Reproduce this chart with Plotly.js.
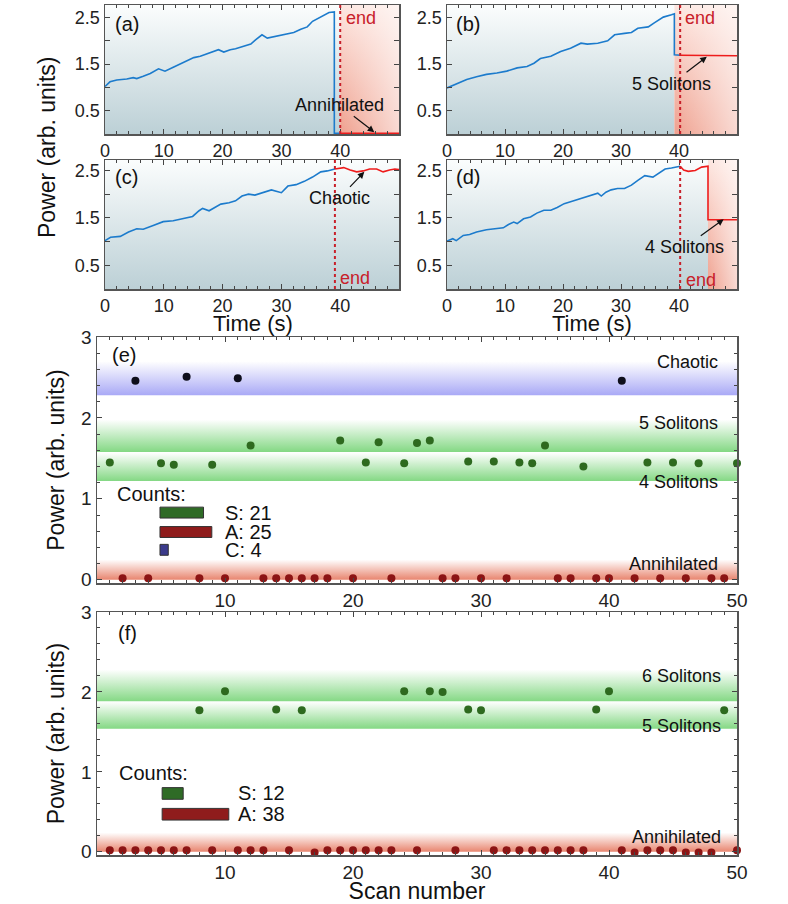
<!DOCTYPE html>
<html><head><meta charset="utf-8">
<script src="https://cdn.plot.ly/plotly-3.0.1.min.js"></script>
<style>html,body{margin:0;padding:0;background:#fff}#chart{width:788px;height:904px}</style>
</head><body><div id="chart"></div>
<script>
// ---------- Panel (a): time trace, ends annihilated ----------
const tA = [0, 0.85, 2, 3.7, 4.8, 5.4, 6.5, 7.7, 9.1, 10.2, 11.7, 13.1, 15.1, 16.2, 17.9, 19.3, 20.2, 21.3, 22.2, 23.6, 24.8, 25.6, 26.7, 27.6, 29.3, 31, 32.1, 33.3, 34.4, 35.3, 36.7, 38.1, 39, 39, 40];
const pA = [1.02, 1.12, 1.16, 1.18, 1.21, 1.19, 1.24, 1.30, 1.40, 1.35, 1.44, 1.52, 1.64, 1.67, 1.74, 1.81, 1.76, 1.81, 1.83, 1.88, 1.93, 2.02, 2.13, 2.06, 2.11, 2.15, 2.18, 2.25, 2.30, 2.42, 2.51, 2.61, 2.62, 0.015, 0.015];
const tAend = [40, 50];
const pAend = [0.015, 0.015];
// ---------- Panel (b): ends with 5 solitons ----------
const tB = [0, 1.6, 3.4, 5.1, 6.8, 8.6, 10.3, 12.1, 13.8, 15, 16.1, 17.9, 19.6, 21.3, 23.1, 24.2, 26, 27.7, 28.9, 30.6, 31.8, 32.9, 34.7, 35.8, 37.3, 38.7, 39.2, 39.2, 40.2];
const pB = [0.99, 1.08, 1.17, 1.23, 1.28, 1.31, 1.35, 1.42, 1.45, 1.52, 1.62, 1.67, 1.77, 1.84, 1.95, 1.93, 1.95, 2.00, 2.13, 2.16, 2.18, 2.27, 2.30, 2.39, 2.51, 2.56, 2.58, 1.70, 1.69];
const tBend = [40.2, 50];
const pBend = [1.69, 1.68];
// ---------- Panel (c): ends chaotic ----------
const tC = [0, 0.95, 2.6, 4.0, 5.4, 6.5, 8.2, 9.9, 11.6, 13.2, 14.9, 16.0, 16.6, 17.7, 18.8, 19.7, 21.1, 22.2, 23.3, 24.4, 25.5, 27.2, 28.3, 30.0, 31.1, 32.5, 33.9, 35.3, 36.7, 37.8, 39.1];
const pC = [1.02, 1.09, 1.11, 1.20, 1.27, 1.26, 1.34, 1.42, 1.44, 1.48, 1.53, 1.65, 1.70, 1.65, 1.73, 1.79, 1.82, 1.86, 1.96, 2.00, 1.98, 2.05, 2.09, 2.03, 2.17, 2.20, 2.27, 2.36, 2.47, 2.49, 2.53];
const tCend = [39.1, 40.6, 41.7, 42.8, 43.9, 45.0, 46.2, 47.3, 48.4, 49.3, 50];
const pCend = [2.53, 2.56, 2.51, 2.47, 2.49, 2.53, 2.53, 2.47, 2.51, 2.53, 2.52];
// ---------- Panel (d): ends with 4 solitons ----------
const tD = [0, 1.0, 1.6, 2.8, 3.9, 5.1, 6.8, 8.0, 9.7, 10.6, 11.5, 12.1, 13.2, 14.4, 15.5, 16.7, 17.9, 19.0, 20.2, 21.3, 22.5, 23.7, 24.8, 26.0, 26.6, 27.4, 28.3, 29.4, 30.6, 31.8, 32.9, 34.1, 35.5, 36.4, 37.6, 38.7, 40.2];
const pD = [1.01, 1.06, 1.02, 1.13, 1.15, 1.20, 1.25, 1.27, 1.29, 1.36, 1.41, 1.38, 1.48, 1.52, 1.60, 1.66, 1.66, 1.72, 1.80, 1.84, 1.89, 1.93, 1.97, 2.02, 1.96, 2.04, 2.09, 2.12, 2.12, 2.19, 2.29, 2.39, 2.36, 2.43, 2.53, 2.55, 2.59];
const tDend = [40.2, 40.8, 41.6, 42.8, 43.9, 45.0, 45.0, 50];
const pDend = [2.59, 2.51, 2.48, 2.50, 2.57, 2.59, 1.46, 1.46];

// end-of-scan markers and shaded final-state regions
const endTimes = [40, 40.2, 39.1, 40.2];
const finalRegionStart = [40, 39.2, null, 45];

// ---------- Panel (e) ----------
const scanChaoticE = [3, 7, 11, 41];
const powChaoticE = [2.46, 2.51, 2.49, 2.46];
const scanSolE = [1, 5, 6, 9, 12, 19, 21, 22, 24, 25, 26, 29, 31, 33, 34, 35, 38, 43, 45, 47, 50];
const powSolE = [1.45, 1.44, 1.42, 1.42, 1.66, 1.72, 1.45, 1.70, 1.44, 1.69, 1.72, 1.46, 1.46, 1.45, 1.44, 1.66, 1.40, 1.45, 1.45, 1.44, 1.44];
const scanAnnE = [2, 4, 8, 10, 13, 14, 15, 16, 17, 18, 20, 23, 27, 28, 30, 32, 36, 37, 39, 40, 42, 44, 46, 48, 49];
const powAnnE = [0.02, 0.02, 0.02, 0.02, 0.02, 0.02, 0.02, 0.02, 0.02, 0.02, 0.02, 0.02, 0.02, 0.02, 0.02, 0.02, 0.02, 0.02, 0.02, 0.02, 0.02, 0.02, 0.02, 0.02, 0.02];
const countNamesE = ['S', 'A', 'C'];
const countsE = [21, 25, 4];
const bandNamesE = ['Chaotic', '5 Solitons', '4 Solitons', 'Annihilated'];
const bandLoE = [2.28, 1.58, 1.22, 0];
const bandHiE = [2.70, 1.98, 1.57, 0.25];

// ---------- Panel (f) ----------
const scanSolF = [8, 10, 14, 16, 24, 26, 27, 29, 30, 39, 40, 49];
const powSolF = [1.77, 2.01, 1.78, 1.77, 2.01, 2.01, 2.00, 1.78, 1.77, 1.78, 2.01, 1.77];
const scanAnnF = [1, 2, 3, 4, 5, 6, 7, 9, 11, 12, 13, 15, 17, 18, 19, 20, 21, 22, 23, 25, 28, 31, 32, 33, 34, 35, 36, 37, 38, 41, 42, 43, 44, 45, 46, 47, 48, 50];
const powAnnF = [0.02, 0.02, 0.02, 0.02, 0.02, 0.02, 0.02, 0.02, 0.02, 0.02, 0.02, 0.02, -0.01, 0.02, 0.02, 0.02, 0.02, 0.02, 0.02, 0.02, 0.02, 0.02, 0.02, 0.02, 0.02, 0.02, 0.02, 0.02, 0.02, 0.02, -0.01, 0.02, 0.02, 0.02, -0.01, -0.01, -0.01, 0.02];
const countNamesF = ['S', 'A'];
const countsF = [12, 38];
const bandNamesF = ['6 Solitons', '5 Solitons', 'Annihilated'];
const bandLoF = [1.88, 1.54, 0];
const bandHiF = [2.28, 1.88, 0.24];

// ================= drawing =================
const FONT = 'Liberation Sans, Arial, Helvetica, sans-serif';
const TXT = '#222';
const BLUE = '#1c7bcc', RED = '#ee1c1c', ENDRED = '#c8202a';
const W = 788, H = 904;
const xd = (l, r) => [l / W, r / W];
const yd = (t, b) => [1 - b / H, 1 - t / H];
const colL = xd(105, 399), colR = xd(447, 737), colW = xd(97, 737);
const rowA = yd(5, 134), rowC = yd(160, 289), rowE = yd(337, 583), rowF = yd(612, 855);
const topY = [2.77, 2.77, 2.72, 2.72];

function axisBase(extra) {
  return Object.assign({
    ticks: 'inside', ticklen: 5, tickwidth: 1, tickcolor: '#444',
    showline: true, linecolor: '#555', linewidth: 1.5, mirror: 'allticks',
    showgrid: false, zeroline: false, fixedrange: true
  }, extra);
}
function topX(domain, anchor) {
  return axisBase({ domain, anchor, range: [0, 50], tickvals: [0, 10, 20, 30, 40],
    minor: { dtick: 2, tick0: 0, ticks: 'inside', ticklen: 3, tickcolor: '#444' },
    tickfont: { family: FONT, size: 18, color: TXT } });
}
function topYax(domain, anchor, top) {
  return axisBase({ domain, anchor, range: [0, top], tickvals: [0.5, 1, 1.5, 2, 2.5],
    ticktext: ['0.5', '', '1.5', '', '2.5'], tickfont: { family: FONT, size: 18, color: TXT } });
}
function botX(domain, anchor, title) {
  const ax = axisBase({ domain, anchor, range: [0, 50], tickvals: [10, 20, 30, 40, 50],
    minor: { dtick: 1, tick0: 0, ticks: 'inside', ticklen: 3, tickcolor: '#444' },
    tickfont: { family: FONT, size: 19, color: TXT } });
  if (title) ax.title = { text: title, font: { family: FONT, size: 23, color: '#111' }, standoff: 0 };
  return ax;
}
function botY(domain, anchor) {
  return axisBase({ domain, anchor, range: [-0.04, 3], tickvals: [0, 1, 2, 3],
    minor: { dtick: 0.2, tick0: 0, ticks: 'inside', ticklen: 3, tickcolor: '#444' },
    tickfont: { family: FONT, size: 19, color: TXT },
    title: { text: 'Power (arb. units)', font: { family: FONT, size: 23, color: '#111' }, standoff: 10 } });
}

function rect(xa, ya, x0, x1, y0, y1, type, colorscale, start, stop) {
  return { type: 'scatter', xaxis: xa, yaxis: ya, x: [x0, x1, x1, x0, x0], y: [y0, y0, y1, y1, y0],
    mode: 'lines', line: { width: 0, color: 'rgba(0,0,0,0)' }, fill: 'toself',
    fillgradient: { type, colorscale, start, stop }, hoverinfo: 'skip', showlegend: false };
}

const traces = [];
const axIds = [['x', 'y'], ['x2', 'y2'], ['x3', 'y3'], ['x4', 'y4']];
const TEAL = [[0, '#bcd0d6'], [1, '#fbfdfd']];
const SALMON = [[0, '#efa08e'], [1, '#fde6e0']];
const FADE = [[0, 'rgba(255,255,255,0)'], [1, 'rgba(255,255,255,0.6)']];
axIds.forEach(([xa, ya], i) => {
  const rs = finalRegionStart[i];
  const tealEnd = rs === null ? 50 : rs;
  traces.push(rect(xa, ya, 0, tealEnd, 0, topY[i], 'vertical', TEAL, 0, topY[i]));
  if (rs !== null) {
    traces.push(rect(xa, ya, rs, 50, 0, topY[i], 'vertical', SALMON, 0, topY[i]));
    traces.push(rect(xa, ya, rs, 50, 0, topY[i], 'horizontal', FADE, rs, 50));
  }
});

const series = [[tA, pA, tAend, pAend], [tB, pB, tBend, pBend], [tC, pC, tCend, pCend], [tD, pD, tDend, pDend]];
series.forEach(([t, p, te, pe], i) => {
  const [xa, ya] = axIds[i];
  traces.push({ type: 'scatter', mode: 'lines', x: t, y: p, xaxis: xa, yaxis: ya, line: { color: BLUE, width: 1.6 }, showlegend: false });
  traces.push({ type: 'scatter', mode: 'lines', x: te, y: pe, xaxis: xa, yaxis: ya, line: { color: RED, width: 1.6 }, showlegend: false });
});

// bands
const bandColE = ['#a9a9f6', '#84d884', '#84d884', '#e8856f'];
bandNamesE.forEach((n, i) => {
  traces.push(rect('x5', 'y5', 0, 50, bandLoE[i], bandHiE[i], 'vertical', [[0, bandColE[i]], [1, '#ffffff']], bandLoE[i], bandHiE[i]));
});
const bandColF = ['#84d884', '#84d884', '#e8856f'];
bandNamesF.forEach((n, i) => {
  traces.push(rect('x6', 'y6', 0, 50, bandLoF[i], bandHiF[i], 'vertical', [[0, bandColF[i]], [1, '#ffffff']], bandLoF[i], bandHiF[i]));
});

// count bars
const BARCOL = { S: '#2f6b26', A: '#8f1c1c', C: '#3b3b8c' };
const barYE = [0.83, 0.59, 0.37], barYF = [0.73, 0.47];
const scaleE = 0.162, scaleF = 0.137, baseE = 4.92, baseF = 5.09;
traces.push({ type: 'bar', orientation: 'h', xaxis: 'x5', yaxis: 'y5', y: barYE, x: countsE.map(c => c * scaleE),
  base: baseE, width: 0.135, marker: { color: countNamesE.map(n => BARCOL[n]), line: { color: '#333', width: 1 } }, showlegend: false, hoverinfo: 'skip' });
traces.push({ type: 'bar', orientation: 'h', xaxis: 'x6', yaxis: 'y6', y: barYF, x: countsF.map(c => c * scaleF),
  base: baseF, width: 0.146, marker: { color: countNamesF.map(n => BARCOL[n]), line: { color: '#333', width: 1 } }, showlegend: false, hoverinfo: 'skip' });

// points
const mk = (x, y, xa, ya, color) => ({ type: 'scatter', mode: 'markers', x, y, xaxis: xa, yaxis: ya,
  marker: { color, size: 8 }, cliponaxis: false, showlegend: false });
traces.push(mk(scanChaoticE, powChaoticE, 'x5', 'y5', '#0e0e1c'));
traces.push(mk(scanSolE, powSolE, 'x5', 'y5', '#2e6a1f'));
traces.push(mk(scanAnnE, powAnnE, 'x5', 'y5', '#8c1414'));
traces.push(mk(scanSolF, powSolF, 'x6', 'y6', '#2e6a1f'));
traces.push(mk(scanAnnF, powAnnF, 'x6', 'y6', '#8c1414'));

// shapes: end-of-scan dotted lines
const shapes = endTimes.map((t, i) => ({ type: 'line', xref: axIds[i][0], yref: axIds[i][1], x0: t, x1: t, y0: 0, y1: topY[i],
  line: { color: ENDRED, width: 2, dash: 'dot' } }));

// annotations
const ann = [];
const txt = (xref, yref, x, y, text, size, opts) => Object.assign({ xref, yref, x, y, text, showarrow: false,
  xanchor: 'center', yanchor: 'middle', font: { family: FONT, size, color: '#111' } }, opts || {});
const panelLbl = ['(a)', '(b)', '(c)', '(d)'];
axIds.forEach(([xa, ya], i) => ann.push(txt(xa, ya, 3.7, 2.36, panelLbl[i], 20)));
// end labels
ann.push(txt('x', 'y', 40.7, 2.5, 'end', 18, { xanchor: 'left', font: { family: FONT, size: 18, color: ENDRED } }));
ann.push(txt('x2', 'y2', 40.7, 2.5, 'end', 18, { xanchor: 'left', font: { family: FONT, size: 18, color: ENDRED } }));
ann.push(txt('x3', 'y3', 39.7, 0.24, 'end', 18, { xanchor: 'left', font: { family: FONT, size: 18, color: ENDRED } }));
ann.push(txt('x4', 'y4', 40.8, 0.2, 'end', 18, { xanchor: 'left', font: { family: FONT, size: 18, color: ENDRED } }));
// final-state annotations with arrows
const arrowAnn = (xa, ya, tx, ty, hx, hy, text) => ({ xref: xa, yref: ya, axref: xa, ayref: ya, x: hx, y: hy, ax: tx, ay: ty,
  text, showarrow: true, arrowhead: 2, arrowsize: 1.1, arrowwidth: 1.2, arrowcolor: '#111', standoff: 0,
  font: { family: FONT, size: 18, color: '#111' } });
ann.push(arrowAnn('x', 'y', 39.8, 0.63, 45.8, 0.04, 'Annihilated'));
ann.push(arrowAnn('x2', 'y2', 38.7, 1.08, 44.8, 1.66, '5 Solitons'));
ann.push(arrowAnn('x3', 'y3', 39.8, 1.91, 44.1, 2.47, 'Chaotic'));
ann.push(arrowAnn('x4', 'y4', 41.0, 0.88, 47.7, 1.47, '4 Solitons'));
// shared axis titles (top)
ann.push(txt('paper', 'paper', 47 / W, 1 - 147 / H, 'Power (arb. units)', 23, { textangle: -90 }));
ann.push(txt('paper', 'paper', 253 / W, 1 - 323 / H, 'Time (s)', 22));
ann.push(txt('paper', 'paper', 592 / W, 1 - 323 / H, 'Time (s)', 22));
// panel (e)
ann.push(txt('x5', 'y5', 2.1, 2.78, '(e)', 20));
const bandLblYE = [2.69, 1.94, 1.21, 0.19];
bandNamesE.forEach((n, i) => ann.push(txt('x5', 'y5', 48.7, bandLblYE[i], n, 18, { xanchor: 'right' })));
ann.push(txt('x5', 'y5', 1.4, 1.06, 'Counts:', 20, { xanchor: 'left' }));
countNamesE.forEach((n, i) => ann.push(txt('x5', 'y5', 9.84, barYE[i], n + ': ' + countsE[i], 20, { xanchor: 'left' })));
// panel (f)
ann.push(txt('x6', 'y6', 2.35, 2.74, '(f)', 20));
const bandLblYF = [2.2, 1.57, 0.19];
bandNamesF.forEach((n, i) => ann.push(txt('x6', 'y6', 48.9, bandLblYF[i], n, 18, { xanchor: 'right' })));
ann.push(txt('x6', 'y6', 1.57, 0.99, 'Counts:', 20, { xanchor: 'left' }));
countNamesF.forEach((n, i) => ann.push(txt('x6', 'y6', 10.87, barYF[i], n + ': ' + countsF[i], 20, { xanchor: 'left' })));

const layout = {
  width: W, height: H, margin: { l: 0, r: 0, t: 0, b: 0 }, paper_bgcolor: '#fff', plot_bgcolor: 'rgba(0,0,0,0)',
  showlegend: false, barmode: 'overlay', font: { family: FONT, color: TXT },
  xaxis: topX(colL, 'y'), yaxis: topYax(rowA, 'x', topY[0]),
  xaxis2: topX(colR, 'y2'), yaxis2: topYax(rowA, 'x2', topY[1]),
  xaxis3: topX(colL, 'y3'), yaxis3: topYax(rowC, 'x3', topY[2]),
  xaxis4: topX(colR, 'y4'), yaxis4: topYax(rowC, 'x4', topY[3]),
  xaxis5: botX(colW, 'y5'), yaxis5: botY(rowE, 'x5'),
  xaxis6: botX(colW, 'y6', 'Scan number'), yaxis6: botY(rowF, 'x6'),
  shapes, annotations: ann
};
Plotly.newPlot('chart', traces, layout, { displayModeBar: false, staticPlot: true });
</script>
</body></html>
